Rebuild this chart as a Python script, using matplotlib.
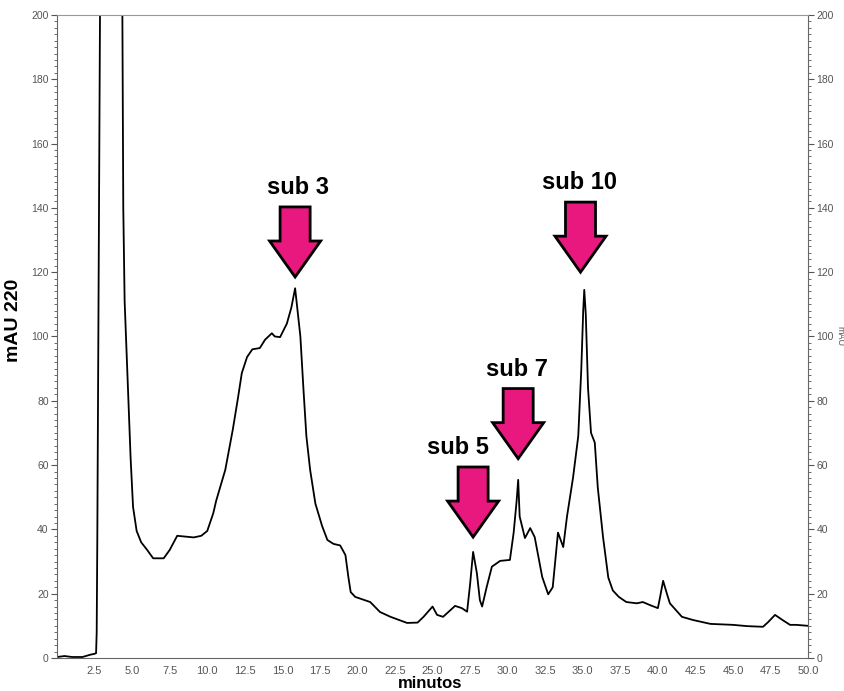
import matplotlib.pyplot as plt
from matplotlib.patches import Polygon

# chromatogram trace (minutes, mAU)
time_min = [
    0.0, 0.5, 1.0, 1.7, 2.2, 2.5, 2.6, 2.64, 2.68, 2.75, 2.86,
    3.2, 3.7, 4.2, 4.35, 4.41, 4.5, 4.75, 4.9, 5.06, 5.3, 5.6,
    6.0, 6.4, 7.1, 7.5, 8.0, 9.1, 9.6, 10.0, 10.4, 10.6,
    11.2, 11.7, 12.05, 12.3, 12.65, 13.0, 13.5, 13.85, 14.3, 14.5,
    14.85, 15.3, 15.6, 15.85, 16.2, 16.4, 16.6, 16.85, 17.2, 17.65,
    18.0, 18.4, 18.85, 19.2, 19.4, 19.55, 19.85, 20.85, 21.5, 22.2,
    23.3, 24.0, 24.4, 25.0, 25.3, 25.7, 26.5, 26.95, 27.3, 27.5,
    27.7, 27.95, 28.15, 28.3, 28.6, 28.95, 29.5, 30.15, 30.4, 30.6,
    30.7, 30.8, 31.15, 31.5, 31.8, 32.3, 32.7, 33.0, 33.35, 33.7,
    33.95, 34.35, 34.7, 34.9, 35.03, 35.1, 35.2, 35.35, 35.55, 35.8,
    36.0, 36.35, 36.7, 37.0, 37.4, 37.9, 38.6, 39.0, 39.5, 40.0,
    40.15, 40.35, 40.6, 40.8, 41.3, 41.6, 42.35, 43.5, 45.0, 45.95,
    47.0, 47.35, 47.8, 48.3, 48.8, 49.2, 50.0,
]
mau = [
    0.3, 0.6, 0.3, 0.3, 1.0, 1.3, 1.5, 8, 36, 100, 200,
    250, 280, 240, 200, 140, 111, 80, 62, 47, 39.5, 36,
    33.6, 31, 31, 33.6, 38, 37.5, 38, 39.5, 45, 49,
    58.5, 71, 81, 88.6, 93.6, 96, 96.4, 99, 101, 100,
    99.8, 104, 109, 115, 100, 84, 69, 58.5, 48, 41,
    36.7, 35.5, 35, 32, 25, 20.5, 19, 17.4, 14.3, 12.8,
    10.9, 11, 12.8, 16, 13.4, 12.8, 16.2, 15.5, 14.4, 23,
    33, 26.4, 18, 16, 22, 28.4, 30.2, 30.5, 39, 49,
    55.4, 44, 37.3, 40.4, 37.6, 25.2, 19.8, 22, 39, 34.5,
    44, 56, 69, 89.6, 108, 114.5, 107, 84, 70, 67,
    53, 37.6, 25, 21, 19, 17.4, 17, 17.4, 16.4, 15.5,
    19, 24, 20, 17, 14.4, 12.8, 11.8, 10.6, 10.3, 9.9,
    9.7, 11.2, 13.4, 11.8, 10.3, 10.3, 10,
]

# peak labels
peak_labels = ['sub 3', 'sub 5', 'sub 7', 'sub 10']
arrow_x = [15.85, 27.7, 30.7, 34.85]
arrow_tip = [118.5, 37.6, 62, 120]
label_x = [16.05, 26.7, 30.6, 34.8]

x_ticks = [2.5 * i for i in range(1, 21)]
y_ticks = list(range(0, 201, 20))

plt.rcParams['font.family'] = ['Liberation Sans', 'DejaVu Sans']

fig = plt.figure(figsize=(8.45, 6.91), dpi=100)
ax = fig.add_axes([0.0675, 0.0478, 0.8888, 0.9305])

ax.plot(time_min, mau, color='black', lw=1.3)
ax.set_xlim(0, 50)
ax.set_ylim(0, 200)

# arrows drawn as polygons pointing down at each peak
for lab, ax_x, tip, lx in zip(peak_labels, arrow_x, arrow_tip, label_x):
    shaft, head = 1.0, 1.7
    neck = tip + 11.2
    top = tip + 21.8
    pts = [(ax_x - shaft, top), (ax_x + shaft, top), (ax_x + shaft, neck),
           (ax_x + head, neck), (ax_x, tip), (ax_x - head, neck),
           (ax_x - shaft, neck)]
    ax.add_patch(Polygon(pts, closed=True, facecolor='#e8187f',
                         edgecolor='black', lw=2, joinstyle='miter', zorder=3))
    ax.text(lx, top + 2.5, lab, ha='center', va='bottom',
            fontsize=17, fontweight='bold')

ax.set_xticks(x_ticks)
ax.set_xticklabels(['%.1f' % v for v in x_ticks])
ax.set_yticks(y_ticks)
ax.set_yticks(range(0, 201, 2), minor=True)
ax.tick_params(axis='x', length=0, pad=6, labelsize=8, labelcolor='#555555')
ax.tick_params(axis='y', which='both', left=True, right=True, labelleft=True,
               labelright=True, labelsize=7.5, labelcolor='#555555',
               color='#555555', pad=2)
ax.tick_params(axis='y', which='major', length=4)
ax.tick_params(axis='y', which='minor', length=2.5)

ax.spines['top'].set_color('#999999')
for s in ['left', 'right', 'bottom']:
    ax.spines[s].set_color('#666666')

ax.set_xlabel('minutos', fontsize=12, fontweight='bold', labelpad=0)
ax.xaxis.set_label_coords(0.497, -0.028)
ax.set_ylabel('mAU 220', fontsize=14, fontweight='bold')
ax.yaxis.set_label_coords(-0.047, 0.525)
fig.text(0.9935, 0.513, 'mAU', rotation=270, fontsize=6.5, color='#555555',
         ha='center', va='center')

fig.savefig('out.png', dpi=100)
